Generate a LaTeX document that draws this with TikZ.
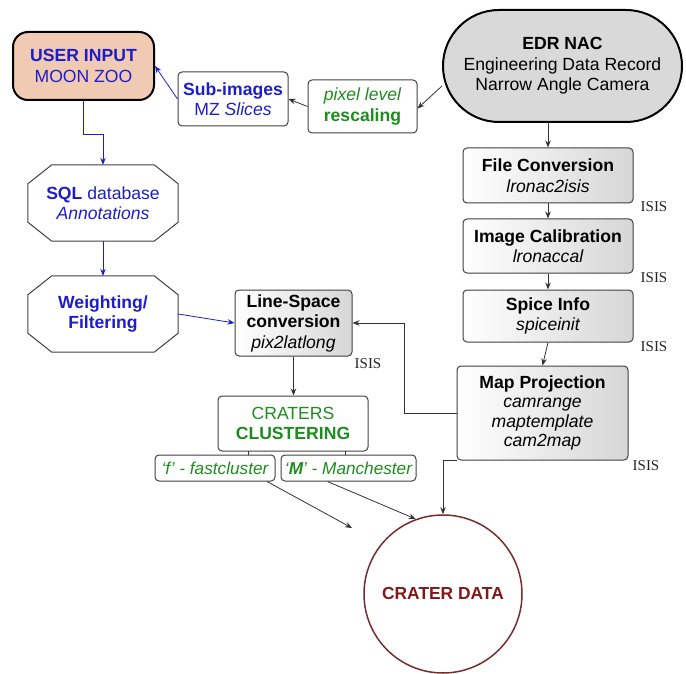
\documentclass[tikz,border=0pt]{standalone}
\usepackage{fontspec}
\setmainfont{Liberation Sans}
\newfontfamily\isisfont{Liberation Serif}
\usetikzlibrary{arrows.meta}
\definecolor{ublue}{RGB}{30,30,200}
\definecolor{ugreen}{RGB}{30,140,30}
\definecolor{ured}{RGB}{130,25,25}
\definecolor{ucirc}{RGB}{120,45,45}
\definecolor{upeach}{RGB}{240,202,178}
\begin{document}
\begin{tikzpicture}[x=1pt,y=-1pt,
  font=\fontsize{17.6}{20.5}\selectfont,
  box/.style={draw=black!75, line width=1pt, rounded corners=4pt, align=center, inner sep=0pt},
  graybox/.style={box, left color=white, right color=gray!32},
  octnode/.style={align=center, inner sep=0pt, minimum width=150pt, minimum height=76pt},
  octline/.style={draw=black!75, line width=1pt},
  isis/.style={font=\isisfont\fontsize{15}{16}\selectfont, text=black!85, inner sep=0pt},
  arr/.style={draw=black!80, line width=0.8pt, -{Stealth[length=7pt,width=5.5pt]}},
  barr/.style={draw=ublue, line width=0.8pt, -{Stealth[length=7pt,width=5.5pt]}},
  plain/.style={draw=black!80, line width=0.8pt}
]
\useasboundingbox (0,0) rectangle (686,674);

% left column
\node[box, draw=black, line width=2pt, rounded corners=15pt, fill=upeach,
      minimum width=141pt, minimum height=68pt, text=ublue] (user) at (83.5,66)
      {\bfseries USER INPUT\\MOON ZOO};
\node[box, minimum width=110pt, minimum height=54pt, text=ublue] (sub) at (233,99)
      {\bfseries Sub-images\\MZ \itshape Slices};
\node[box, minimum width=109pt, minimum height=53pt, text=ugreen] (pix) at (362.5,106.5)
      {\itshape pixel level\\\bfseries rescaling};
\node[box, draw=black, line width=2pt, rounded corners=56pt, fill=gray!30,
      minimum width=239pt, minimum height=112pt] (edr) at (562.5,66)
      {\bfseries EDR NAC\\Engineering Data Record\\Narrow Angle Camera};

\node[octnode, text=ublue] (sql) at (103,203) {\bfseries SQL\mdseries{} database\\\itshape Annotations};
\node[octnode, text=ublue] (wf) at (103,314) {\bfseries Weighting/\\\bfseries Filtering};
\foreach \n in {sql,wf}{
  \draw[octline] ([xshift=24pt]\n.north west) -- ([xshift=-24pt]\n.north east)
    -- ([yshift=-19pt]\n.north east) -- ([yshift=19pt]\n.south east)
    -- ([xshift=-24pt]\n.south east) -- ([xshift=24pt]\n.south west)
    -- ([yshift=19pt]\n.south west) -- ([yshift=-19pt]\n.north west) -- cycle;
}

% ISIS chain
\node[graybox, minimum width=170pt, minimum height=55pt] (fc) at (548,175.5)
      {\bfseries File Conversion\\\itshape lronac2isis};
\node[graybox, minimum width=170pt, minimum height=54pt] (ic) at (548,246)
      {\bfseries Image Calibration\\\itshape lronaccal};
\node[graybox, minimum width=170pt, minimum height=52pt] (si) at (548,316)
      {\bfseries Spice Info\\\itshape spiceinit};
\node[graybox, minimum width=171pt, minimum height=94pt, font=\fontsize{17.6}{19.6}\selectfont] (mp) at (542.5,413)
      {\bfseries Map Projection\\\itshape camrange\\\itshape maptemplate\\\itshape cam2map};
\node[graybox, minimum width=117pt, minimum height=66pt] (ls) at (293.5,323)
      {\bfseries Line-Space\\\bfseries conversion\\\itshape pix2latlong};

\node[isis] (i1) at (654,207) {ISIS};
\node[isis] (i2) at (654,278) {ISIS};
\node[isis] (i3) at (654,347) {ISIS};
\node[isis] (i4) at (646,466) {ISIS};
\node[isis] (i5) at (368,364) {ISIS};

% clustering
\node[box, minimum width=150pt, minimum height=55pt, text=ugreen] (cl) at (293,423.5)
      {CRATERS\\\bfseries CLUSTERING};
\node[box, minimum width=120pt, minimum height=26pt, text=ugreen, font=\fontsize{17.2}{18}\selectfont\itshape] (fast) at (215,468)
      {‘f’ - fastcluster};
\node[box, minimum width=135pt, minimum height=26pt, text=ugreen, font=\fontsize{17.2}{18}\selectfont\itshape] (man) at (348.5,468)
      {‘\textbf{M}’ - Manchester};

\node[circle, draw=ucirc, line width=1.5pt, minimum size=158pt, inner sep=0pt,
      text=ured, font=\fontsize{17.4}{20}\selectfont\bfseries] (cd) at (443,594) {CRATER DATA};

\coordinate (fastend) at (352,528);

% connectors
\draw[arr] ([yshift=-20pt]edr.west) -- ([yshift=-2pt]pix.east);
\draw[arr] (pix.west) -- (sub.east);
\draw[barr] (sub.west) -- (user.east);
\draw[barr] (user.south) -- ++(0,33) -| (sql.north);
\draw[barr] (sql.south) -- (wf.north);
\draw[barr] (wf.east) -- (ls.west);

\draw[arr] (edr.south -| fc.north) -- (fc.north);
\draw[arr] (fc.south) -- (ic.north);
\draw[arr] (ic.south) -- (si.north);
\draw[arr] (si.south) -- (mp.north);
\draw[arr] (mp.west) -- ++(-52,0) |- (ls.east);
\draw[arr] (ls.south) -- (ls.south |- cl.north);
\draw[plain] ([xshift=33pt]fast.north) -- ++(0,-4);
\draw[plain] ([xshift=-3.5pt]man.north) -- ++(0,-4);
\draw[arr] ([xshift=52pt]fast.south) -- (fastend);
\draw[arr] ([xshift=-21pt]man.south) -- (cd.110);
\draw[arr] (mp.south west) -| (cd.north);
\end{tikzpicture}
\end{document}
